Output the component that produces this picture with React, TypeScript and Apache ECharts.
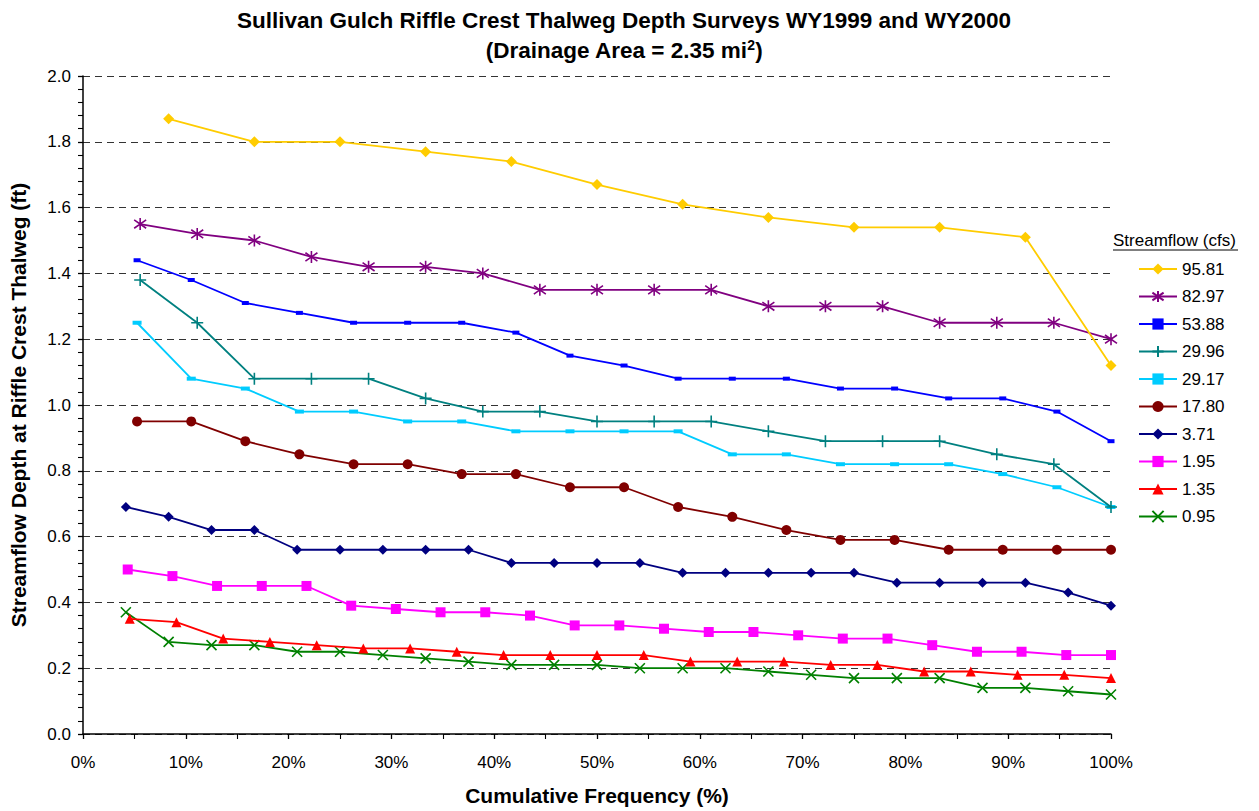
import React, { useEffect, useRef } from "react";
import * as echarts from "echarts";

// Cumulative frequency (%) for each sample size (rank / count)
const cumFreq12 = [8.33, 16.67, 25, 33.33, 41.67, 50, 58.33, 66.67, 75, 83.33, 91.67, 100];
const cumFreq18 = [5.56, 11.11, 16.67, 22.22, 27.78, 33.33, 38.89, 44.44, 50, 55.56, 61.11, 66.67, 72.22, 77.78, 83.33, 88.89, 94.44, 100];
const cumFreq19 = [5.26, 10.53, 15.79, 21.05, 26.32, 31.58, 36.84, 42.11, 47.37, 52.63, 57.89, 63.16, 68.42, 73.68, 78.95, 84.21, 89.47, 94.74, 100];
const cumFreq22 = [4.55, 9.09, 13.64, 18.18, 22.73, 27.27, 31.82, 36.36, 40.91, 45.45, 50, 54.55, 59.09, 63.64, 68.18, 72.73, 77.27, 81.82, 86.36, 90.91, 95.45, 100];
const cumFreq23 = [4.35, 8.7, 13.04, 17.39, 21.74, 26.09, 30.43, 34.78, 39.13, 43.48, 47.83, 52.17, 56.52, 60.87, 65.22, 69.57, 73.91, 78.26, 82.61, 86.96, 91.3, 95.65, 100];
const cumFreq24 = [4.17, 8.33, 12.5, 16.67, 20.83, 25, 29.17, 33.33, 37.5, 41.67, 45.83, 50, 54.17, 58.33, 62.5, 66.67, 70.83, 75, 79.17, 83.33, 87.5, 91.67, 95.83, 100];

// Thalweg depth (ft) by streamflow (cfs)
const depth9581 = [1.87, 1.8, 1.8, 1.77, 1.74, 1.67, 1.61, 1.57, 1.54, 1.54, 1.51, 1.12];
const depth8297 = [1.55, 1.52, 1.5, 1.45, 1.42, 1.42, 1.4, 1.35, 1.35, 1.35, 1.35, 1.3, 1.3, 1.3, 1.25, 1.25, 1.25, 1.2];
const depth5388 = [1.44, 1.38, 1.31, 1.28, 1.25, 1.25, 1.25, 1.22, 1.15, 1.12, 1.08, 1.08, 1.08, 1.05, 1.05, 1.02, 1.02, 0.98, 0.89];
const depth2996 = [1.38, 1.25, 1.08, 1.08, 1.08, 1.02, 0.98, 0.98, 0.95, 0.95, 0.95, 0.92, 0.89, 0.89, 0.89, 0.85, 0.82, 0.69];
const depth2917 = [1.25, 1.08, 1.05, 0.98, 0.98, 0.95, 0.95, 0.92, 0.92, 0.92, 0.92, 0.85, 0.85, 0.82, 0.82, 0.82, 0.79, 0.75, 0.69];
const depth1780 = [0.95, 0.95, 0.89, 0.85, 0.82, 0.82, 0.79, 0.79, 0.75, 0.75, 0.69, 0.66, 0.62, 0.59, 0.59, 0.56, 0.56, 0.56, 0.56];
const depth371 = [0.69, 0.66, 0.62, 0.62, 0.56, 0.56, 0.56, 0.56, 0.56, 0.52, 0.52, 0.52, 0.52, 0.49, 0.49, 0.49, 0.49, 0.49, 0.46, 0.46, 0.46, 0.46, 0.43, 0.39];
const depth195 = [0.5, 0.48, 0.45, 0.45, 0.45, 0.39, 0.38, 0.37, 0.37, 0.36, 0.33, 0.33, 0.32, 0.31, 0.31, 0.3, 0.29, 0.29, 0.27, 0.25, 0.25, 0.24, 0.24];
const depth135 = [0.35, 0.34, 0.29, 0.28, 0.27, 0.26, 0.26, 0.25, 0.24, 0.24, 0.24, 0.24, 0.22, 0.22, 0.22, 0.21, 0.21, 0.19, 0.19, 0.18, 0.18, 0.17];
const depth095 = [0.37, 0.28, 0.27, 0.27, 0.25, 0.25, 0.24, 0.23, 0.22, 0.21, 0.21, 0.21, 0.2, 0.2, 0.2, 0.19, 0.18, 0.17, 0.17, 0.17, 0.14, 0.14, 0.13, 0.12];

const seriesNames = ["95.81", "82.97", "53.88", "29.96", "29.17", "17.80", "3.71", "1.95", "1.35", "0.95"];
const seriesFreq = [cumFreq12, cumFreq18, cumFreq19, cumFreq18, cumFreq19, cumFreq19, cumFreq24, cumFreq23, cumFreq22, cumFreq24];
const seriesDepth = [depth9581, depth8297, depth5388, depth2996, depth2917, depth1780, depth371, depth195, depth135, depth095];

const titleLine1 = "Sullivan Gulch Riffle Crest Thalweg Depth Surveys WY1999 and WY2000";
const titleLine2 = "(Drainage Area = 2.35 mi{sup|2})";
const xAxisTitle = "Cumulative Frequency (%)";
const yAxisTitle = "Streamflow Depth at Riffle Crest Thalweg (ft)";
const legendTitle = "Streamflow (cfs)";

const FONT = "Arial, 'Liberation Sans', Helvetica, sans-serif";

const ASTERISK = "path://M0,-10L0,10M-7,-7L7,7M-7,7L7,-7";
const PLUS = "path://M0,-10L0,10M-10,0L10,0";
const CROSS = "path://M-10,-10L10,10M-10,10L10,-10";

const styles = [
  { color: "#FFCC00", symbol: "diamond", size: 11, stroke: false },
  { color: "#800080", symbol: ASTERISK, size: 12, stroke: true },
  { color: "#0000FF", symbol: "rect", size: [7, 4], stroke: false },
  { color: "#008080", symbol: PLUS, size: 12, stroke: true },
  { color: "#00CCFF", symbol: "rect", size: [9, 4], stroke: false },
  { color: "#800000", symbol: "circle", size: 10, stroke: false },
  { color: "#000080", symbol: "diamond", size: 10, stroke: false },
  { color: "#FF00FF", symbol: "rect", size: 10, stroke: false },
  { color: "#FF0000", symbol: "triangle", size: 10, stroke: false },
  { color: "#008000", symbol: CROSS, size: 10, stroke: true },
];

export default function App() {
  const ref = useRef<HTMLDivElement>(null);
  useEffect(() => {
    if (!ref.current) return;
    const chart = echarts.init(ref.current, undefined, { renderer: "svg" });
    const series = seriesNames.map((name, i) => {
      const st = styles[i];
      return {
        name,
        type: "line",
        data: seriesFreq[i].map((f, j) => [f, seriesDepth[i][j]]),
        symbol: st.symbol,
        symbolSize: st.size,
        showAllSymbol: true,
        lineStyle: { color: st.color, width: 1.8 },
        itemStyle: st.stroke
          ? { color: st.color, borderColor: st.color, borderWidth: 1.6 }
          : { color: st.color, borderWidth: 0 },
        emphasis: { disabled: true },
        z: 10 - i,
      };
    });
    chart.setOption({
      animation: false,
      backgroundColor: "#fff",
      textStyle: { fontFamily: FONT },
      grid: { left: 80, right: 148, top: 76, bottom: 72, containLabel: false },
      legend: {
        orient: "vertical",
        left: 1138,
        top: 260.5,
        padding: 0,
        itemWidth: 38,
        itemHeight: 14,
        itemGap: 10.5,
        selectedMode: false,
        textStyle: { fontFamily: FONT, fontSize: 17, color: "#000" },
        data: seriesNames,
      },
      xAxis: {
        type: "value",
        min: 0,
        max: 100,
        interval: 10,
        name: xAxisTitle,
        nameLocation: "middle",
        nameGap: 51,
        nameTextStyle: { fontFamily: FONT, fontSize: 21, fontWeight: "bold", color: "#000" },
        axisLine: { show: true, lineStyle: { color: "#000", width: 1.5 } },
        axisTick: { show: true, length: 5, lineStyle: { color: "#000", width: 1.3 } },
        minorTick: { show: true, splitNumber: 2, length: 5, lineStyle: { color: "#000", width: 1.1 } },
        axisLabel: { formatter: "{value}%", fontSize: 17, color: "#000", margin: 20, fontFamily: FONT },
        splitLine: { show: false },
      },
      yAxis: {
        type: "value",
        min: 0,
        max: 2,
        interval: 0.2,
        name: yAxisTitle,
        nameLocation: "middle",
        nameGap: 54,
        nameTextStyle: { fontFamily: FONT, fontSize: 21, fontWeight: "bold", color: "#000" },
        axisLine: { show: true, lineStyle: { color: "#000", width: 1.5 } },
        axisTick: { show: true, length: 5, lineStyle: { color: "#000", width: 1.3 } },
        minorTick: { show: true, splitNumber: 5, length: 5, lineStyle: { color: "#000", width: 1.1 } },
        axisLabel: {
          formatter: (v: number) => v.toFixed(1),
          fontSize: 17,
          color: "#000",
          margin: 12,
          fontFamily: FONT,
        },
        splitLine: { show: true, lineStyle: { color: "#333", type: [7, 5], width: 1 } },
      },
      graphic: [
        {
          type: "text",
          x: 624,
          y: 20,
          style: {
            text: titleLine1,
            font: `bold 22.5px ${FONT}`,
            fill: "#000",
            align: "center",
            verticalAlign: "middle",
          },
        },
        {
          type: "text",
          x: 624,
          y: 50,
          style: {
            text: titleLine2,
            font: `bold 22.5px ${FONT}`,
            fill: "#000",
            align: "center",
            verticalAlign: "middle",
            rich: {
              sup: { font: `bold 14px ${FONT}`, fill: "#000", padding: [0, 0, 11, 0] },
            },
          },
        },
        {
          type: "text",
          x: 1113,
          y: 240,
          style: {
            text: legendTitle,
            font: `17px ${FONT}`,
            fill: "#000",
            align: "left",
            verticalAlign: "middle",
          },
        },
        {
          type: "line",
          shape: { x1: 1113, y1: 250, x2: 1238, y2: 250 },
          style: { stroke: "#000", lineWidth: 1 },
        },
      ],
      series,
    });
    return () => chart.dispose();
  }, []);
  return (
    <div
      ref={ref}
      style={{ position: "fixed", left: 0, top: 0, width: 1259, height: 811, background: "#fff" }}
    />
  );
}
